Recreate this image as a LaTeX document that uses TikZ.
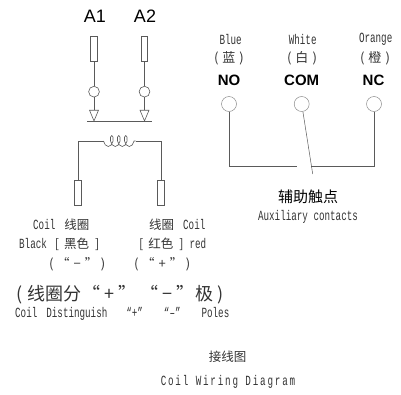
\documentclass[tikz,border=0pt]{standalone}
\usepackage{fontspec}
\setmainfont{Liberation Sans}
\newfontfamily\cjkfont{Noto Sans CJK SC}
\newfontfamily\narrowfont[FakeStretch=0.66]{Liberation Mono}
\newfontfamily\widefont[FakeStretch=0.66,LetterSpace=13]{Liberation Mono}
\usetikzlibrary{positioning,shapes.geometric,decorations.pathmorphing}
\newcommand{\cn}[2]{{\fontsize{#1}{#1}\selectfont\cjkfont #2}}
\newcommand{\la}[1]{{\fontsize{14}{14}\selectfont\narrowfont #1}}
\newcommand{\lawide}[1]{{\fontsize{14}{14}\selectfont\widefont #1}}
\definecolor{wire}{HTML}{5A5A5A}

\begin{document}
\begin{tikzpicture}[
	x=1pt,y=-1pt,
	term/.style={
		draw=wire,
		line width=0.7pt,
		minimum width=6.6pt,
		minimum height=25pt,
		inner sep=0pt
	},
	ring/.style={
		draw=wire,
		circle,
		line width=0.6pt,
		minimum size=10.8pt,
		inner sep=0pt
	},
	pole/.style={
		draw=black!45,
		circle,
		line width=0.5pt,
		minimum size=15pt,
		inner sep=0pt
	},
	tip/.style={
		draw=wire,
		isosceles triangle,
		isosceles triangle stretches,
		shape border rotate=-90,
		minimum width=9pt,
		minimum height=10.7pt,
		inner sep=0pt,
		line width=0.6pt,
		anchor=apex
	},
	wires/.style={
		draw=wire,
		line width=0.7pt
	},
	big/.style={
		font=\fontsize{18}{18}\selectfont
	},
	sign/.style={
		font=\fontsize{15}{15}\selectfont\bfseries
	},
	txt/.style={
		inner sep=0pt,
		text=black!80
	}
	]
	\useasboundingbox (0,0) rectangle (401,394);
	
	\node[big] (a1) at (95,16) {A1};
	\node[big] (a2) at (145,16) {A2};
	
	\node[term] (t1) at (94,49) {};
	\node[term] (t2) at (144.5,49) {};
	\node[ring] (r1) at (94,91.7) {};
	\node[ring] (r2) at (144.5,91.7) {};
	\node[tip] (v1) at (94,121.7) {};
	\node[tip] (v2) at (144.5,121.7) {};
	\coordinate (busl) at (87,121.7);
	\coordinate (busr) at (151.7,121.7);
	
	\draw[wires] (t1) -- (r1);
	\draw[wires] (t2) -- (r2);
	\draw[wires] (r1) -- (v1);
	\draw[wires] (r2) -- (v2);
	\draw[wires] (busl) -- (busr);
	
	\node[term] (b1) at (78,193) {};
	\node[term] (b2) at (161,193) {};
	\coordinate (coill) at (103.5,141);
	\coordinate (coilr) at (135.5,141);
	\draw[wires] (b1) |- (coill);
	\draw[wires] (b2) |- (coilr);
	\draw[wires,line width=0.6pt,decorate,decoration={coil,aspect=0.55,segment length=7pt,amplitude=5.5pt,mirror}] (coill) -- (coilr);
	
	\node[txt] (blue) at (230.7,39) {\la{Blue}};
	\node[txt] (white) at (302.7,39) {\la{White}};
	\node[txt] (orange) at (375.7,39) {\la{Orange}};
	\node[txt] (lan) at (229,58) {\cn{13}{(\hspace{4pt}蓝\hspace{4pt})}};
	\node[txt] (bai) at (302,58) {\cn{13}{(\hspace{4pt}白\hspace{4pt})}};
	\node[txt] (cheng) at (375,58) {\cn{13}{(\hspace{4pt}橙\hspace{4pt})}};
	\node[sign] (no) at (229,80.7) {NO};
	\node[sign] (com) at (301.7,80.7) {COM};
	\node[sign] (nc) at (373.5,80.7) {NC};
	
	\node[pole] (p1) at (229,104) {};
	\node[pole] (p2) at (301.7,104) {};
	\node[pole] (p3) at (374,104) {};
	\coordinate (nol) at (296.7,166);
	\coordinate (ncl) at (311,166);
	\coordinate (arm) at (312.7,174);
	\draw[wires] (p1) |- (nol);
	\draw[wires] (p3) |- (ncl);
	\draw[wires,line width=0.5pt] (p2) -- (arm);
	
	\node[txt,text=black] (fz) at (308,196.7) {\cn{15}{辅助触点}};
	\node[txt] (aux) at (308,217) {\la{Auxiliary\ contacts}};
	
	\node[txt,anchor=west] (c1) at (33,225) {\la{Coil}\hspace{9pt}\cn{12.5}{线圈}};
	\node[txt,anchor=west] (c2) at (19,244) {\la{Black}\hspace{8pt}\cn{12.5}{[\hspace{5pt}黑色\hspace{6pt}]}};
	\node[txt,anchor=west] (c3) at (49,264) {\cn{13}{(\hspace{3pt}“\hspace{4pt}−\hspace{4pt}”\hspace{3pt})}};
	\node[txt,anchor=west] (c4) at (149,225) {\cn{12.5}{线圈}\hspace{9pt}\la{Coil}};
	\node[txt,anchor=west] (c5) at (139,244) {\cn{12.5}{[\hspace{5pt}红色\hspace{6pt}]}\hspace{6pt}\la{red}};
	\node[txt,anchor=west] (c6) at (134,264) {\cn{13}{(\hspace{3pt}“\hspace{4pt}+\hspace{4pt}”\hspace{3pt})}};
	
	\node[txt,anchor=west] (fen) at (16,295) {\cn{18}{(\hspace{5pt}线圈分\hspace{1pt}“\hspace{4pt}+\hspace{4pt}”\hspace{4pt}“\hspace{4pt}−\hspace{4pt}”\hspace{1pt}极\hspace{4pt})}};
	\node[txt,anchor=west] (dis) at (15,314) {\la{Coil}\hspace{9pt}\la{Distinguish}\hspace{19pt}\la{“+”}\hspace{21pt}\la{“–”}\hspace{21pt}\la{Poles}};
	
	\node[txt] (jx) at (227.7,357) {\cn{12.5}{接线图}};
	\node[txt] (cw) at (228,382) {\lawide{Coil\ Wiring\ Diagram}};
	
\end{tikzpicture}
\end{document}
